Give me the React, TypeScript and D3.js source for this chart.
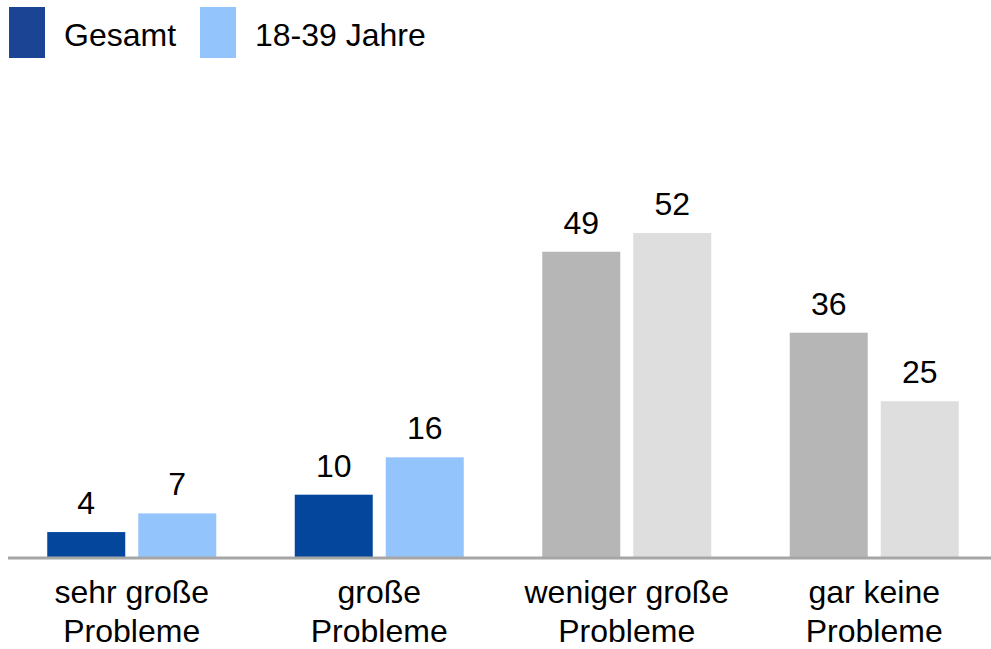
import { useMemo } from 'react'
import * as d3 from 'd3'

// ── data ─────────────────────────────────────────────────────────────────────
const categories = [
  ['sehr große', 'Probleme'],
  ['große', 'Probleme'],
  ['weniger große', 'Probleme'],
  ['gar keine', 'Probleme'],
]
const seriesNames = ['Gesamt', '18-39 Jahre']
const gesamt = [4, 10, 49, 36]
const jung   = [7, 16, 52, 25]

// ── constants ────────────────────────────────────────────────────────────────
const W = 991
const H = 649
const BASE = 557
const FS = 32
const FONT = '"Liberation Sans", Arial, sans-serif'
const LEGEND_COLS = ['#1c4494', '#94c4fc']
// first two categories coloured, last two in greys
const COLS = [
  ['#03469c', '#94c4fc'],
  ['#03469c', '#94c4fc'],
  ['#b6b6b6', '#dedede'],
  ['#b6b6b6', '#dedede'],
]

export default function App() {
  const x = useMemo(() =>
    d3.scaleBand<number>().domain(d3.range(categories.length)).range([8, 998]).paddingInner(0).paddingOuter(0),
  [])
  const y = useMemo(() => d3.scaleLinear().domain([0, 52]).range([BASE, BASE - 52 * 6.23]), [])
  const barW = 78
  const gap = 13

  const series = [gesamt, jung]

  return (
    <svg width={W} height={H} style={{ position: 'absolute', left: 0, top: 0, fontFamily: FONT }}>
      {/* Legend */}
      {seriesNames.map((name, i) => {
        const lx = i === 0 ? 9 : 200
        return (
          <g key={name}>
            <rect x={lx} y={7} width={36} height={51} fill={LEGEND_COLS[i]} />
            <text x={lx + 55} y={46} fontSize={FS} fill="#000">{name}</text>
          </g>
        )
      })}

      {/* Bars */}
      {categories.map((_, ci) => {
        const c = (x(ci) ?? 0) + x.bandwidth() / 2
        return series.map((vals, si) => {
          const bx = si === 0 ? c - gap / 2 - barW : c + gap / 2
          const v = vals[ci]
          return (
            <g key={`${ci}-${si}`}>
              <rect x={bx} y={y(v)} width={barW} height={BASE - y(v)} fill={COLS[ci][si]} />
              <text x={bx + barW / 2} y={y(v) - 18} fontSize={FS} textAnchor="middle" fill="#000">{v}</text>
            </g>
          )
        })
      })}

      {/* Axis line */}
      <line x1={8} x2={W} y1={BASE + 1} y2={BASE + 1} stroke="#a6a6a6" strokeWidth={3} />

      {/* Category labels */}
      {categories.map((lines, ci) => {
        const c = (x(ci) ?? 0) + x.bandwidth() / 2
        return (
          <text key={ci} x={c} fontSize={FS} textAnchor="middle" fill="#000">
            {lines.map((l, li) => (
              <tspan key={li} x={c} y={603 + li * 39}>{l}</tspan>
            ))}
          </text>
        )
      })}
    </svg>
  )
}
